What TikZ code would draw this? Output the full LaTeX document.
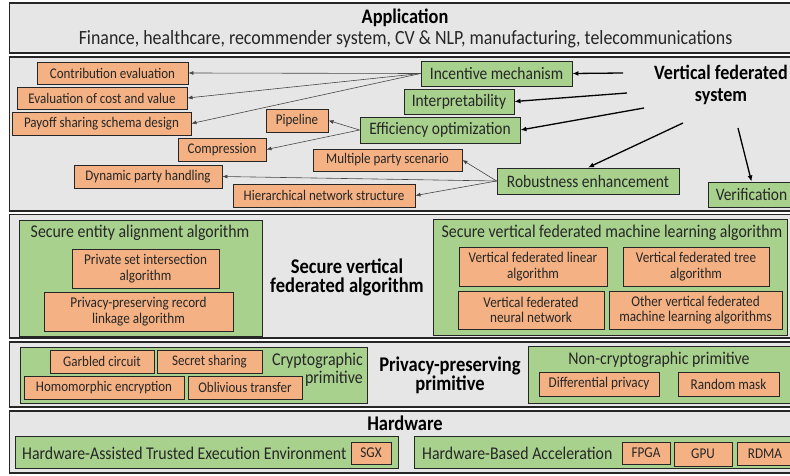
\documentclass[tikz,border=0pt]{standalone}
\usepackage{fontspec}
\setmainfont[FakeStretch=0.885]{Carlito}
\usetikzlibrary{arrows.meta}
\definecolor{bg}{HTML}{E7E6E6}
\definecolor{org}{HTML}{F4B183}
\definecolor{grn}{HTML}{A9D18E}
\definecolor{bd}{HTML}{262626}
\definecolor{txt}{HTML}{262626}
\begin{document}
\begin{tikzpicture}[x=1pt,y=-1pt,
  outer/.style={draw=bd, line width=1.6pt, fill=bg},
  obox/.style={draw=bd, line width=0.9pt, fill=org, inner sep=0pt, align=center, text=txt, font=\fontsize{14.7}{15}\selectfont},
  abox/.style={obox, font=\fontsize{14.9}{15.5}\selectfont},
  gbox/.style={draw=bd, line width=0.9pt, fill=grn, inner sep=0pt, align=center, text=txt, font=\fontsize{17.5}{18}\selectfont},
  gtitle/.style={inner sep=0pt, text=txt, font=\fontsize{17.9}{18}\selectfont},
  btitle/.style={inner sep=0pt, align=center, text=black, font=\fontsize{20.9}{19}\selectfont\bfseries},
  thinarr/.style={draw=bd!85, line width=0.6pt, -{Latex[length=5pt,width=4pt]}},
  thickarr/.style={draw=black, line width=1.3pt, -{Latex[length=6pt,width=5pt]}}
]
\useasboundingbox (0,0) rectangle (790,476);
\fill[white] (0,0) rectangle (790,476);
\clip (0,0) rectangle (790,476);

% outer layers
\draw[outer] (9.5,3) rectangle (800,53);
\draw[outer] (9.5,57) rectangle (800,211);
\draw[outer] (9.5,214.5) rectangle (800,338);
\draw[outer] (9.5,342) rectangle (800,407);
\draw[outer] (9.5,411) rectangle (800,473);

% Application
\node[btitle, font=\fontsize{20.7}{22}\selectfont\bfseries] (app) at (405,18) {Application};
\node[inner sep=0pt, text=txt, font=\fontsize{20.2}{22}\selectfont] (appsub) at (405.5,39) {Finance, healthcare, recommender system, CV \& NLP, manufacturing, telecommunications};

% Vertical federated system
\node[btitle, font=\fontsize{20.4}{22}\selectfont\bfseries] (vfs) at (721,85) {Vertical federated\\system};
\node[obox, minimum width=151pt, minimum height=22pt] (ce) at (112.5,73) {Contribution evaluation};
\node[obox, minimum width=170pt, minimum height=22pt] (ecv) at (102,98) {Evaluation of cost and value};
\node[obox, minimum width=179pt, minimum height=23pt] (pss) at (101.5,123.5) {Payoff sharing schema design};
\node[obox, minimum width=62pt, minimum height=23pt] (pipe) at (297,120.5) {Pipeline};
\node[obox, minimum width=88pt, minimum height=23pt] (comp) at (222,149.5) {Compression};
\node[obox, minimum width=148pt, minimum height=23pt] (dph) at (148,176.5) {Dynamic party handling};
\node[obox, minimum width=182pt, minimum height=23pt] (hns) at (324,195.5) {Hierarchical network structure};
\node[obox, minimum width=149pt, minimum height=22pt] (mps) at (387.5,160) {Multiple party scenario};

\node[gbox, minimum width=151pt, minimum height=25pt] (inc) at (496.5,73.5) {Incentive mechanism};
\node[gbox, minimum width=110pt, minimum height=25pt] (interp) at (459,101.5) {Interpretability};
\node[gbox, minimum width=160pt, minimum height=26pt] (eff) at (440,130) {Efficiency optimization};
\node[gbox, minimum width=182pt, minimum height=26pt] (rob) at (588,181) {Robustness enhancement};
\node[gbox, minimum width=87pt, minimum height=25pt] (ver) at (751.5,194.5) {Verification};

\coordinate (s1) at (623,73);
\coordinate (s2) at (627,93);
\coordinate (s3) at (644,108);
\coordinate (s4) at (683,123);
\coordinate (s5) at (738,128);
\draw[thickarr] (s1) -- (inc.east);
\draw[thickarr] (s2) -- (interp.east);
\draw[thickarr] (s3) -- (eff.east);
\draw[thickarr] (s4) -- (rob.north);
\draw[thickarr] (s5) -- (ver.north);

\draw[thinarr] (inc.west) -- (ce.east);
\draw[thinarr] (inc.west) -- (ecv.east);
\draw[thinarr] (inc.west) -- (pss.east);
\draw[thinarr] (eff.west) -- (pipe.east);
\draw[thinarr] (eff.west) -- (comp.east);
\draw[thinarr] (rob.west) -- (mps.east);
\draw[thinarr] (rob.west) -- (dph.east);
\draw[thinarr] (rob.west) -- (hns.east);

% Secure vertical federated algorithm
\node[gbox, minimum width=243pt, minimum height=116pt] (sea) at (140.5,278) {};
\node[gtitle] (seat) at (140,233) {Secure entity alignment algorithm};
\node[abox, minimum width=147pt, minimum height=39pt] (psi) at (145.5,268.5) {Private set intersection\\algorithm};
\node[abox, minimum width=189pt, minimum height=39pt] (pprl) at (138.5,311.5) {Privacy-preserving record\\linkage algorithm};
\node[btitle] (svfa) at (347,277.5) {Secure vertical\\federated algorithm};
\node[gbox, minimum width=354pt, minimum height=116pt] (svml) at (610,277) {};
\node[gtitle] (svmlt) at (612,233) {Secure vertical federated machine learning algorithm};
\node[abox, minimum width=148pt, minimum height=39pt] (vfl) at (533,266.5) {Vertical federated linear\\algorithm};
\node[abox, minimum width=146pt, minimum height=39pt] (vft) at (696,266.5) {Vertical federated tree\\algorithm};
\node[abox, minimum width=146pt, minimum height=38pt] (vfnn) at (531,310) {Vertical federated\\neural network};
\node[abox, minimum width=173pt, minimum height=38pt] (ovf) at (695.5,310) {Other vertical federated\\machine learning algorithms};

% Privacy-preserving primitive
\node[gbox, minimum width=347pt, minimum height=56pt] (cry) at (193.5,375) {};
\node[obox, minimum width=104pt, minimum height=23pt] (gc) at (102,361.5) {Garbled circuit};
\node[obox, minimum width=105pt, minimum height=23pt] (ss) at (209.5,361.5) {Secret sharing};
\node[obox, minimum width=160pt, minimum height=23pt] (he) at (104,387.5) {Homomorphic encryption};
\node[obox, minimum width=114pt, minimum height=23pt] (ot) at (245,387.5) {Oblivious transfer};
\node[gtitle, align=right, anchor=east, font=\fontsize{18}{18}\selectfont] (cryt) at (363,370) {Cryptographic\\primitive};
\node[btitle] (ppp) at (450,375.5) {Privacy-preserving\\primitive};
\node[gbox, minimum width=272pt, minimum height=57pt] (ncr) at (664,374.5) {};
\node[gtitle] (ncrt) at (659,360) {Non-cryptographic primitive};
\node[abox, minimum width=120pt, minimum height=24pt] (dp) at (599,384) {Differential privacy};
\node[abox, minimum width=101pt, minimum height=24pt] (rm) at (728.5,384) {Random mask};

% Hardware
\node[btitle] (hw) at (405,423) {Hardware};
\node[gbox, minimum width=383pt, minimum height=32pt] (hat) at (206.5,452) {};
\node[gtitle, anchor=west] (hatt) at (22,453) {Hardware-Assisted Trusted Execution Environment};
\node[abox, minimum width=40pt, minimum height=22pt] (sgx) at (371,453) {SGX};
\node[gbox, minimum width=386pt, minimum height=32pt] (hba) at (607,452) {};
\node[gtitle, anchor=west] (hbat) at (422,453) {Hardware-Based Acceleration};
\node[abox, minimum width=48pt, minimum height=22pt] (fpga) at (646,453) {FPGA};
\node[abox, minimum width=58pt, minimum height=24pt] (gpu) at (703,454) {GPU};
\node[abox, minimum width=56pt, minimum height=23pt] (rdma) at (765,453.5) {RDMA};
\end{tikzpicture}
\end{document}
